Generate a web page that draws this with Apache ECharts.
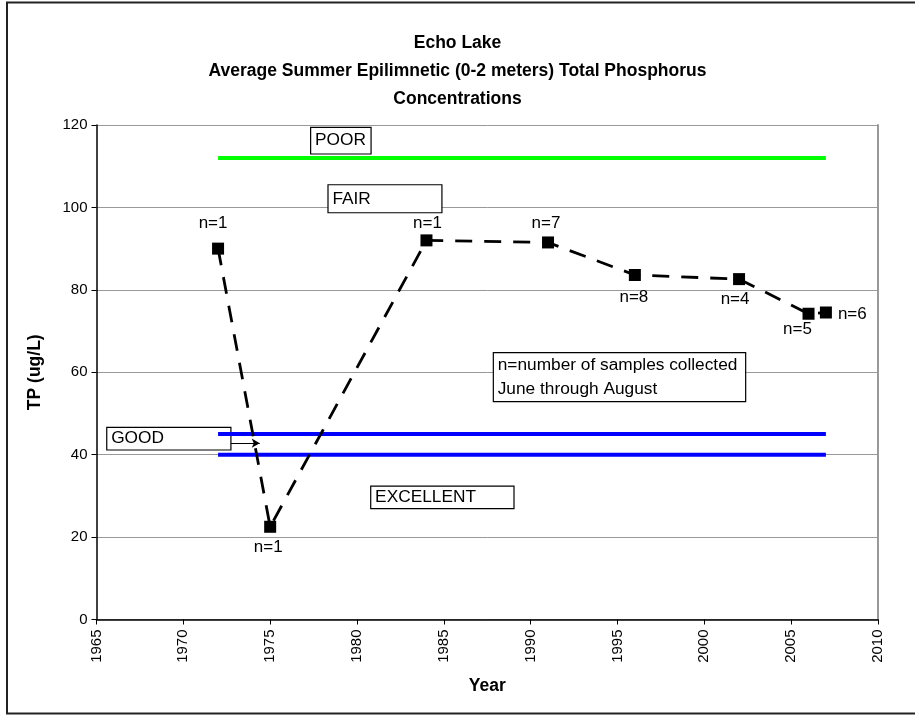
<!DOCTYPE html>
<html>
<head>
<meta charset="utf-8">
<script src="https://cdn.jsdelivr.net/npm/echarts@6/dist/echarts.min.js"></script>
<style>
html,body{margin:0;padding:0;background:#fff;}
#chart{width:915px;height:715px;}
</style>
</head>
<body>
<div id="chart"></div>
<script>
// ---- data ----
var years = [1972, 1975, 1984, 1991, 1996, 2002, 2006, 2007];
var tpValues = [90, 22.5, 92, 91.5, 83.6, 82.6, 74.2, 74.5];
var nLabels = ['n=1', 'n=1', 'n=1', 'n=7', 'n=8', 'n=4', 'n=5', 'n=6'];
var poorLine = [[1972, 112], [2007, 112]];
var good45Line = [[1972, 45], [2007, 45]];
var good40Line = [[1972, 40], [2007, 40]];
var xTicks = {min: 1965, max: 2010, interval: 5};
var yTicks = {min: 0, max: 120, interval: 20};
var boxTexts = ['POOR', 'FAIR', 'GOOD', 'EXCELLENT', 'n=number of samples collected\nJune through August'];
// annotation box extents in data coordinates [x1, y1, x2, y2]
var boxExtents = [
  [1977.33, 119.4, 1980.81, 112.96],
  [1978.33, 105.5, 1984.89, 98.71],
  [1965.59, 46.64, 1972.74, 41.13],
  [1980.79, 32.39, 1989.04, 26.89],
  [1987.85, 64.74, 2002.38, 52.85]
];
var arrowSeg = [[1972.74, 42.8], [1974.4, 42.8]];

// label placement (style)
var labelPlace = [
  {position: 'top', offset: [-5, -6]},
  {position: 'bottom', offset: [-2, 1]},
  {position: 'top', offset: [1, 2]},
  {position: 'top', offset: [-2, 0]},
  {position: 'bottom', offset: [-1, 3]},
  {position: 'bottom', offset: [-4, 1]},
  {position: 'bottom', offset: [-11, -4]},
  {position: 'right', offset: [1, 2]}
];

var FONT = '"Liberation Sans", Arial, sans-serif';
var chart = echarts.init(document.getElementById('chart'), null, {renderer: 'canvas'});

var mainData = years.map(function (y, i) {
  return {
    value: [y, tpValues[i]],
    label: {
      show: true,
      formatter: nLabels[i],
      position: labelPlace[i].position,
      offset: labelPlace[i].offset,
      distance: 5,
      color: '#000',
      fontSize: 17,
      fontFamily: FONT
    }
  };
});

var areaData = boxExtents.map(function (b, i) {
  return [
    {coord: [b[0], b[1]], name: boxTexts[i]},
    {coord: [b[2], b[3]]}
  ];
});

var option = {
  backgroundColor: '#fff',
  animation: false,
  textStyle: {fontFamily: FONT},
  title: {
    text: 'Echo Lake\nAverage Summer Epilimnetic (0-2 meters) Total Phosphorus\nConcentrations',
    left: 'center',
    top: 24,
    textStyle: {fontSize: 17.5, fontWeight: 'bold', color: '#000', lineHeight: 28, fontFamily: FONT, align: 'center'}
  },
  graphic: [{
    type: 'rect',
    shape: {x: 7, y: 2.5, width: 920, height: 711},
    style: {fill: null, stroke: '#222', lineWidth: 2},
    silent: true
  }],
  grid: {left: 96.5, right: 37, top: 125, bottom: 95.5, containLabel: false},
  xAxis: {
    type: 'value',
    min: xTicks.min, max: xTicks.max, interval: xTicks.interval,
    name: 'Year', nameLocation: 'middle', nameGap: 58,
    nameTextStyle: {fontSize: 17.5, fontWeight: 'bold', color: '#000', fontFamily: FONT},
    axisLine: {lineStyle: {color: '#000', width: 1.5}},
    axisTick: {show: true, length: 5, lineStyle: {color: '#000'}},
    axisLabel: {rotate: 90, color: '#000', fontSize: 15, margin: 10, fontFamily: FONT,
      formatter: function (v) { return String(v); }},
    splitLine: {show: false}
  },
  yAxis: [{
    type: 'value',
    min: yTicks.min, max: yTicks.max, interval: yTicks.interval,
    name: 'TP (ug/L)', nameLocation: 'middle', nameGap: 52, nameRotate: 90,
    nameTextStyle: {fontSize: 17.5, fontWeight: 'bold', color: '#000', fontFamily: FONT},
    axisLine: {show: true, lineStyle: {color: '#000', width: 1.5}},
    axisTick: {show: true, length: 5, lineStyle: {color: '#000'}},
    axisLabel: {color: '#000', fontSize: 15, margin: 9, fontFamily: FONT},
    splitLine: {show: true, lineStyle: {color: '#999', width: 1}}
  }, {
    type: 'value', position: 'right',
    min: yTicks.min, max: yTicks.max, interval: yTicks.interval,
    axisLine: {show: true, lineStyle: {color: '#999', width: 2}},
    axisTick: {show: false}, axisLabel: {show: false}, splitLine: {show: false}
  }],
  series: [
    {
      type: 'line', data: poorLine, symbol: 'none', z: 3,
      lineStyle: {color: '#00ff00', width: 4}
    },
    {
      type: 'line', data: good45Line, symbol: 'none', z: 3,
      lineStyle: {color: '#0000ff', width: 4}
    },
    {
      type: 'line', data: good40Line, symbol: 'none', z: 3,
      lineStyle: {color: '#0000ff', width: 4}
    },
    {
      type: 'line', data: mainData, z: 4,
      symbol: 'rect', symbolSize: 12, showAllSymbol: true,
      itemStyle: {color: '#000'},
      lineStyle: {color: '#000', width: 2.8, type: [17, 12]}
    },
    {
      type: 'line', data: [], z: 6,
      markArea: {
        silent: true,
        itemStyle: {color: '#fff', borderColor: '#000', borderWidth: 1.2, opacity: 1},
        label: {
          show: true, position: 'insideLeft', distance: 5,
          color: '#000', fontSize: 17.3, lineHeight: 23.5, fontFamily: FONT
        },
        data: areaData
      },
      markLine: {
        silent: true,
        symbol: ['none', 'arrow'], symbolSize: [7, 8],
        lineStyle: {color: '#000', width: 1, type: 'solid'},
        label: {show: false},
        data: [[{coord: arrowSeg[0]}, {coord: arrowSeg[1]}]]
      }
    }
  ]
};
chart.setOption(option);
</script>
</body>
</html>
